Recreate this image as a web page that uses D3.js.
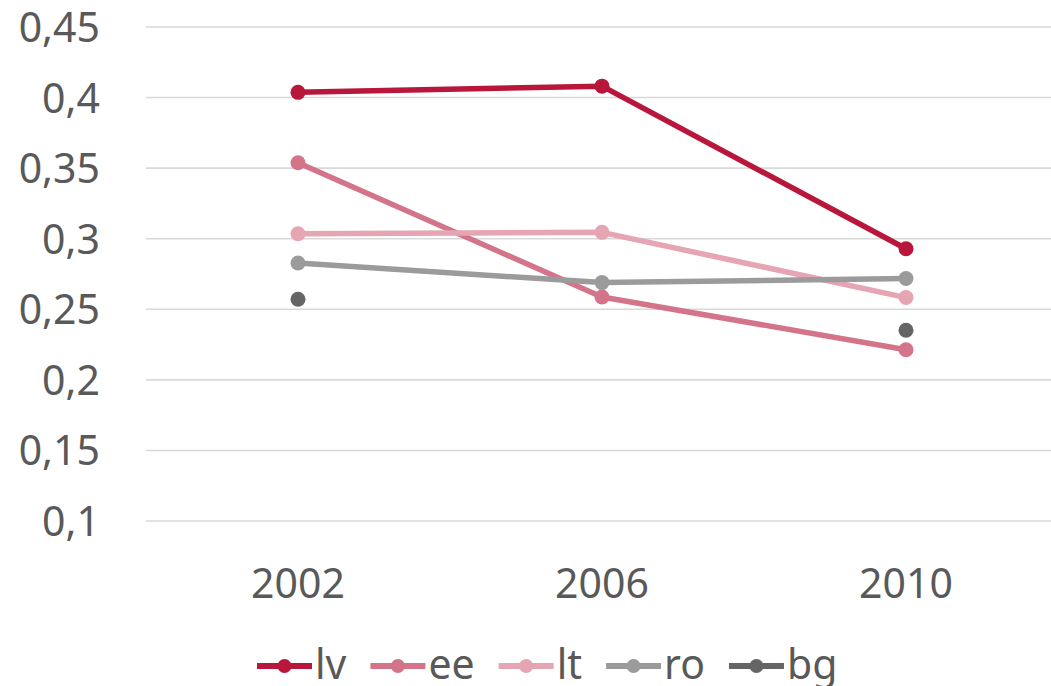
<!DOCTYPE html>
<html>
<head>
<meta charset="utf-8">
<script src="https://cdn.jsdelivr.net/npm/d3@7"></script>
<style>
  html, body { margin: 0; padding: 0; background: #fff; }
  svg { display: block; }
  text { font-family: "Noto Sans", "Open Sans", sans-serif; fill: #595959; }
</style>
</head>
<body>
<svg id="chart" width="1051" height="686"></svg>
<script>
// Years on the category axis
const years = ["2002", "2006", "2010"];

// Series values (null = no observation)
const lv = [0.4037, 0.4081, 0.2929];
const ee = [0.3538, 0.2587, 0.2213];
const lt = [0.3035, 0.3045, 0.2583];
const ro = [0.2828, 0.2689, 0.2718];
const bg = [0.2571, null, 0.2351];

// Value axis ticks
const yTicks = [0.1, 0.15, 0.2, 0.25, 0.3, 0.35, 0.4, 0.45];

const seriesNames = ["lv", "ee", "lt", "ro", "bg"];
const seriesValues = [lv, ee, lt, ro, bg];
const seriesColors = ["#B8163B", "#D4748A", "#E5A5B2", "#9B9B9B", "#656565"];

const series = seriesNames.map((name, i) => ({
  name,
  color: seriesColors[i],
  values: seriesValues[i].map((v, j) => ({ year: years[j], value: v }))
}));

const svg = d3.select("#chart");
const plot = { left: 146, right: 1058, top: 27, bottom: 521 };

const x = d3.scalePoint().domain(years).range([plot.left, plot.right]).padding(0.5);
const y = d3.scaleLinear().domain([0.1, 0.45]).range([plot.bottom, plot.top]);

const fmt = d => String(+d.toFixed(2)).replace(".", ",");

// Horizontal gridlines
svg.append("g")
  .selectAll("line")
  .data(yTicks)
  .join("line")
  .attr("x1", plot.left).attr("x2", plot.right)
  .attr("y1", d => y(d)).attr("y2", d => y(d))
  .attr("stroke", "#D9D9D9")
  .attr("stroke-width", 1.6);

// Value axis labels
svg.append("g")
  .selectAll("text")
  .data(yTicks)
  .join("text")
  .attr("x", 100)
  .attr("y", d => y(d) + 15)
  .attr("text-anchor", "end")
  .attr("font-size", 41)
  .text(fmt);

// Category axis labels
svg.append("g")
  .selectAll("text")
  .data(years)
  .join("text")
  .attr("x", d => x(d))
  .attr("y", 598)
  .attr("text-anchor", "middle")
  .attr("font-size", 41)
  .text(d => d);

// Lines and markers
const line = d3.line()
  .defined(d => d.value !== null)
  .x(d => x(d.year))
  .y(d => y(d.value));

const g = svg.append("g")
  .selectAll("g")
  .data(series)
  .join("g");

g.append("path")
  .attr("d", d => line(d.values))
  .attr("fill", "none")
  .attr("stroke", d => d.color)
  .attr("stroke-width", 5.5)
  .attr("stroke-linejoin", "round");

g.selectAll("circle")
  .data(d => d.values.filter(p => p.value !== null).map(p => ({ ...p, color: d.color })))
  .join("circle")
  .attr("cx", d => x(d.year))
  .attr("cy", d => y(d.value))
  .attr("r", 7.5)
  .attr("fill", d => d.color);

// Legend: line-with-marker swatch followed by the series name
const legend = svg.append("g");
const swatchW = 55;
let lx = 257;
const ly = 666;
series.forEach(s => {
  const item = legend.append("g");
  item.append("line")
    .attr("x1", lx).attr("x2", lx + swatchW)
    .attr("y1", ly).attr("y2", ly)
    .attr("stroke", s.color).attr("stroke-width", 6);
  item.append("circle")
    .attr("cx", lx + swatchW / 2).attr("cy", ly).attr("r", 7)
    .attr("fill", s.color);
  const t = item.append("text")
    .attr("x", lx + swatchW + 3)
    .attr("y", 679)
    .attr("font-size", 41)
    .text(s.name);
  lx += swatchW + 3 + t.node().getComputedTextLength() + 24;
});
</script>
</body>
</html>
